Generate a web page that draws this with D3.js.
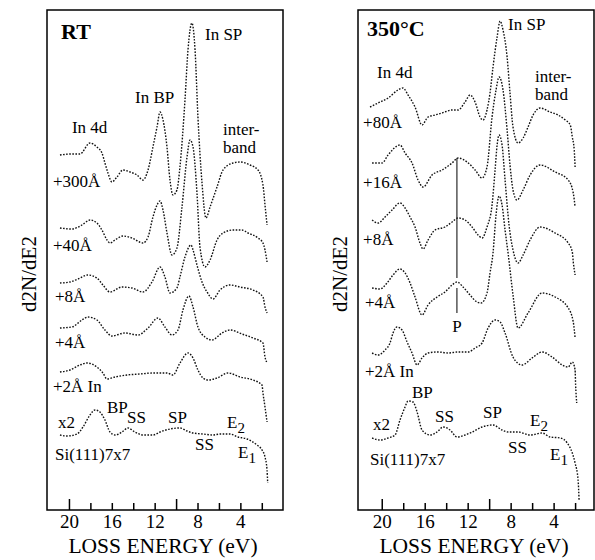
<!DOCTYPE html>
<html><head><meta charset="utf-8">
<script src="https://cdn.jsdelivr.net/npm/d3@7"></script>
<style>body{margin:0;background:#fff}svg{display:block}</style>
</head><body>
<svg id="c" width="595" height="560"></svg>
<script>
// ---------- data (loss energy eV, d2N/dE2 in arbitrary units incl. stacking offset) ----------
const energyTicks = [20,18,16,14,12,10,8,6,4,2];
const tickLabels = [20,16,12,8,4];
const majorTicks = [20,10];

// Room temperature panel
const rt300 = [[20.84,355],[19.72,356],[18.97,356],[18.04,367],[17.39,363],[16.92,357],[16.64,347],[16.36,337],[15.99,328],[15.52,333],[14.96,340],[14.30,338],[13.65,335],[13.09,330],[12.62,340],[12.16,363],[11.78,383],[11.50,398],[11.22,390],[10.85,363],[10.57,330],[10.29,315],[9.92,320],[9.64,343],[9.17,410],[8.89,460],[8.52,487],[8.23,460],[7.96,393],[7.58,327],[7.21,292],[6.83,303],[6.18,323],[5.62,340],[4.69,347],[4.03,348],[3.10,345],[2.35,340],[1.89,325],[1.70,305],[1.51,285]];
const rt40 = [[20.84,282],[19.72,281],[18.79,285],[18.04,290],[17.39,287],[16.92,280],[16.45,270],[16.17,267],[15.70,270],[14.96,274],[14.12,272],[13.09,267],[12.62,273],[12.16,293],[11.78,305],[11.50,309],[11.22,300],[10.85,277],[10.38,255],[9.92,262],[9.45,303],[8.98,353],[8.70,370],[8.42,363],[8.05,317],[7.77,263],[7.30,243],[6.83,250],[6.18,270],[5.62,277],[4.69,280],[3.85,280],[3.29,277],[2.35,272],[1.89,267],[1.70,260],[1.51,248]];
const rt8 = [[20.84,227],[19.91,228],[19.16,231],[18.23,235],[17.39,232],[16.83,225],[16.17,218],[15.05,223],[14.12,222],[13.09,218],[12.25,228],[11.50,243],[11.04,233],[10.57,217],[9.92,222],[9.64,233],[9.17,253],[8.61,265],[8.42,260],[8.05,245],[7.58,228],[7.11,218],[6.55,211],[5.90,220],[4.97,225],[4.03,223],[2.82,220],[1.89,213],[1.70,203],[1.51,197]];
const rt4 = [[20.84,182],[19.72,183],[18.79,190],[18.23,193],[17.39,190],[16.64,180],[15.99,174],[14.77,177],[13.56,175],[12.62,182],[11.69,192],[11.04,183],[10.38,175],[9.82,180],[9.36,200],[8.80,214],[8.42,203],[7.96,183],[7.30,173],[6.65,170],[5.71,177],[4.97,180],[3.85,176],[2.82,172],[1.89,167],[1.70,153],[1.55,148]];
const rt2 = [[20.84,138],[19.91,140],[18.97,145],[18.32,147],[17.39,143],[16.83,137],[16.45,131],[15.70,133],[14.58,135],[13.37,136],[12.16,137],[10.85,137],[10.29,135],[9.64,147],[8.89,157],[8.42,152],[7.96,140],[7.49,132],[7.02,130],[6.18,132],[5.15,137],[4.03,133],[2.82,130],[1.98,125],[1.89,117],[1.70,103],[1.51,88]];
const rtSi = [[20.84,75],[20.19,74],[19.25,76],[18.69,83],[18.04,95],[17.57,100],[17.11,98],[16.64,90],[16.17,78],[15.70,75],[15.05,78],[14.49,82],[13.84,78],[13.09,75],[12.16,75],[11.50,78],[10.57,81],[9.64,82],[8.98,79],[8.42,77],[7.49,76],[6.55,75],[5.90,76],[4.97,76],[4.22,73],[3.38,71],[2.45,65],[1.98,60],[1.70,53],[1.51,40],[1.45,27]];

// 350 C panel
const ht80 = [[21.09,403],[20.34,407],[19.41,412],[18.48,420],[18.02,422],[17.55,415],[16.90,403],[16.25,385],[15.69,393],[15.04,395],[14.39,397],[13.45,400],[12.90,400],[12.24,408],[11.78,415],[11.31,408],[10.85,393],[10.57,390],[10.20,400],[9.92,417],[9.64,443],[9.26,473],[8.98,489],[8.71,480],[8.33,453],[8.06,417],[7.78,383],[7.31,367],[6.84,372],[6.38,383],[5.91,395],[5.26,402],[4.33,398],[3.58,395],[2.91,390],[2.45,385],[2.26,373],[2.08,360],[2.00,343]];
const ht16 = [[20.90,347],[19.97,347],[19.41,355],[18.30,365],[17.83,357],[17.18,347],[16.62,330],[16.15,323],[15.32,335],[14.39,340],[13.45,347],[12.90,352],[12.06,348],[11.31,340],[10.66,332],[10.20,343],[9.73,393],[9.36,420],[9.08,433],[8.71,420],[8.33,380],[8.06,345],[7.78,320],[7.41,310],[6.84,320],[6.19,335],[5.26,345],[3.86,338],[2.64,330],[2.17,317],[2.00,303]];
const ht8 = [[20.90,290],[20.34,287],[19.69,293],[19.04,300],[18.30,307],[17.83,302],[17.36,293],[16.90,283],[16.44,267],[16.15,261],[15.69,270],[15.04,280],[14.11,283],[13.45,288],[12.90,292],[12.24,290],[11.59,283],[11.03,275],[10.66,272],[10.20,283],[9.73,305],[9.45,340],[9.26,365],[9.08,375],[8.80,365],[8.52,330],[8.15,285],[7.78,260],[7.31,247],[6.84,255],[6.19,270],[5.26,283],[3.86,277],[2.64,267],[2.26,258],[2.17,248],[2.00,235]];
const ht4 = [[20.90,222],[20.16,221],[19.51,227],[18.95,235],[18.30,241],[17.83,237],[17.36,227],[16.90,213],[16.25,195],[15.69,205],[14.85,213],[14.11,218],[13.45,225],[12.99,228],[12.43,223],[11.78,215],[11.13,208],[10.75,207],[10.20,217],[9.92,237],[9.64,257],[9.36,295],[9.08,314],[8.80,305],[8.52,280],[8.24,257],[7.78,215],[7.31,182],[6.38,197],[5.07,217],[3.86,213],[2.64,202],[2.17,188],[2.00,172]];
const ht2 = [[20.90,157],[20.34,155],[19.69,160],[19.23,167],[18.95,177],[18.58,183],[18.11,180],[17.64,168],[17.18,157],[16.71,145],[16.25,152],[15.69,157],[14.76,158],[13.83,157],[12.90,158],[11.96,158],[11.31,162],[10.66,167],[10.10,182],[9.45,190],[8.98,188],[8.52,177],[7.78,153],[6.94,145],[6.01,152],[5.07,158],[4.14,153],[3.19,145],[2.64,143],[2.26,148],[2.00,140],[1.95,125],[1.85,107]];
const htSi = [[20.90,72],[20.16,70],[19.41,72],[18.76,75],[18.30,90],[17.83,103],[17.55,109],[17.09,108],[16.71,98],[16.25,80],[15.50,75],[14.85,78],[14.29,83],[13.64,80],[12.99,73],[12.24,75],[11.59,78],[10.66,83],[9.64,85],[8.80,80],[8.24,78],[7.31,78],[6.19,75],[5.07,77],[4.33,73],[3.38,72],[2.73,67],[2.26,57],[2.00,47],[1.72,30],[1.63,10]];

// plasmon "P" marker energy
const pEnergy = 13.0;

// annotations: [text, energy, level]  ("E|2" = E with subscript 2)
const rtLabels = [["In SP",7.30,470],["In BP",13.83,407],["In 4d",19.72,377],["inter-",5.62,375],["band",5.62,357],["+300Å",21.49,323],["+40Å",21.49,259],["+8Å",21.30,208],["+4Å",21.30,162],["+2Å In",21.49,118],["BP",16.45,97],["x2",21.02,82],["SS",14.58,87],["SP",10.75,87],["E|2",5.24,82],["SS",8.23,60],["E|1",4.22,52],["Si(111)7x7",21.30,50]];
const htLabels = [["In SP",8.24,480],["In 4d",20.44,432],["inter-",5.73,428],["band",5.73,410],["+80Å",21.74,382],["+16Å",21.74,322],["+8Å",21.74,265],["+4Å",21.56,202],["+2Å In",21.56,133],["BP",17.18,112],["x2",20.81,80],["SS",15.04,88],["SP",10.57,92],["E|2",6.19,84],["SS",8.24,57],["E|1",4.33,50],["Si(111)7x7",21.09,45]];

const panels = [
  {title:"RT", titleAt:[20.74,471], x0:47, x1:283, dom:[22.05,0.02], series:[rt300,rt40,rt8,rt4,rt2,rtSi], labels:rtLabels, p:null},
  {title:"350°C", titleAt:[21.37,474], x0:358, x1:594, dom:[22.21,0.24], series:[ht80,ht16,ht8,ht4,ht2,htSi], labels:htLabels, p:pEnergy}
];

const svg = d3.select("#c");
const serif = "'Liberation Serif','Times New Roman',Times,serif";
const frameTop = 10, frameBottom = 510;

panels.forEach((P) => {
  const x = d3.scaleLinear().domain(P.dom).range([P.x0, P.x1]);
  const y = d3.scaleLinear().domain([0,500]).range([frameBottom, frameTop]);
  const g = svg.append("g");

  // frame
  g.append("rect").attr("x",P.x0).attr("y",frameTop).attr("width",P.x1-P.x0).attr("height",frameBottom-frameTop)
    .attr("fill","none").attr("stroke","#000").attr("stroke-width",1.5);

  // axis
  const ax = g.append("g").attr("transform",`translate(0,${frameBottom})`)
    .call(d3.axisBottom(x).tickValues(energyTicks).tickSize(-7).tickPadding(5)
      .tickFormat(d => tickLabels.includes(d) ? d : ""));
  ax.select(".domain").remove();
  ax.selectAll(".tick line").attr("stroke","#000").attr("stroke-width",1.5)
    .attr("y2", d => majorTicks.includes(d) ? -11 : -7);
  ax.selectAll(".tick text").filter(d => !tickLabels.includes(d)).remove();
  ax.selectAll(".tick text").style("font-family",serif).style("font-size","19px").attr("fill","#000");

  // axis title
  g.append("text").attr("x",(P.x0+P.x1)/2 - 2).attr("y",553).attr("text-anchor","middle")
    .style("font-family",serif).style("font-size","21.5px").text("LOSS ENERGY (eV)");
  // y label
  const ylx = P.x0 - 11;
  g.append("text").attr("transform",`translate(${ylx},274) rotate(-90)`).attr("text-anchor","middle")
    .style("font-family",serif).style("font-size","21px").text("d2N/dE2");

  // P marker
  if (P.p !== null) {
    g.append("line").attr("x1",x(P.p)).attr("x2",x(P.p)).attr("y1",y(352)).attr("y2",y(232))
      .attr("stroke","#000").attr("stroke-width",1);
    g.append("line").attr("x1",x(P.p)).attr("x2",x(P.p)).attr("y1",y(222)).attr("y2",y(197))
      .attr("stroke","#000").attr("stroke-width",1);
    g.append("text").attr("x",x(P.p)).attr("y",y(178)).attr("text-anchor","middle")
      .style("font-family",serif).style("font-size","17px").text("P");
  }

  // spectra
  const line = d3.line().x(d => x(d[0])).y(d => y(d[1])).curve(d3.curveMonotoneX);
  P.series.forEach(s => {
    g.append("path").attr("d", line(s)).attr("fill","none").attr("stroke","#111")
      .attr("stroke-width",1.4).attr("stroke-dasharray","1.6 1.5");
  });

  // title
  g.append("text").attr("x",x(P.titleAt[0])).attr("y",y(P.titleAt[1]))
    .style("font-family",serif).style("font-size","22px").style("font-weight","bold").text(P.title);

  // labels
  P.labels.forEach(([t,e,v]) => {
    const txt = g.append("text").attr("x",x(e)).attr("y",y(v))
      .style("font-family",serif).style("font-size","17px").attr("fill","#000");
    if (t.includes("|")) {
      const [a,b] = t.split("|");
      txt.append("tspan").text(a);
      txt.append("tspan").attr("dy",5).style("font-size","15px").text(b);
    } else txt.text(t);
  });
});
</script>
</body></html>
